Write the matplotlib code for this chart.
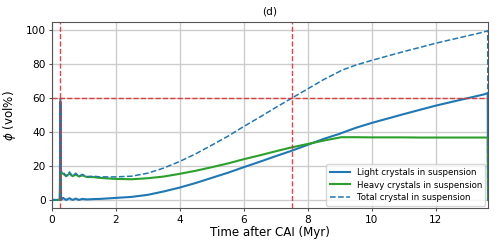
import matplotlib
matplotlib.use('Agg')
import matplotlib.pyplot as plt

# time after CAI (Myr)
time = [0, 0.01, 0.25, 0.27, 0.29, 0.35, 0.45, 0.55, 0.65, 0.75, 0.85, 0.95,
        1.1, 1.3, 1.5, 2, 2.5, 3, 3.5, 4, 4.5, 5, 5.5, 6, 6.5, 7, 7.5, 8,
        8.5, 9, 9.05, 9.5, 10, 10.5, 11, 11.5, 12, 12.5, 13, 13.5, 13.63, 13.64]

light = [0, 0, 0, 58, 0, 1.2, 0, 1.0, 0, 0.8, 0, 0.6,
         0.3, 0.5, 0.6, 1.2, 1.8, 3, 5, 7.3, 10, 13, 16, 19.3, 22.5, 25.8, 29, 32.5,
         36, 39, 39.4, 42.5, 45.4, 48, 50.6, 53.1, 55.6, 57.8, 60, 62.2, 63, 0]

heavy = [0, 0, 0, 17, 16.5, 15.5, 14, 15.5, 14, 15, 13.8, 14.5,
         13.5, 13.5, 13, 12.4, 12.2, 12.8, 13.8, 15.4, 17.2, 19.3, 21.5, 24, 26.3, 28.7, 31, 33,
         35, 36.8, 37, 37, 36.9, 36.9, 36.9, 36.8, 36.8, 36.8, 36.8, 36.8, 36.8, 0]

total = [100, 0, 0, 60, 16.5, 16.7, 14, 16.5, 14, 15.8, 13.8, 15.1,
         13.8, 14, 13.6, 13.6, 14, 15.8, 18.8, 22.7, 27.2, 32.3, 37.5, 43.3, 48.8, 54.5, 60, 65.5,
         71, 75.8, 76.4, 79.5, 82.3, 84.9, 87.5, 89.9, 92.4, 94.6, 96.8, 99, 99.8, 0]

fig = plt.figure(figsize=(4.98, 2.49), dpi=100)
ax = fig.add_axes([0.104, 0.163, 0.876, 0.749])

ax.plot(time, light, color='#1f77b4', lw=1.5, label='Light crystals in suspension')
ax.plot(time, heavy, color='#2ca02c', lw=1.5, label='Heavy crystals in suspension')
ax.plot(time, total, color='#1f77b4', lw=1.1, ls='--', label='Total crystal in suspension')

ax.axvline(0.27, color='#e03030', ls='--', lw=1.0, alpha=0.9)
ax.axvline(7.5, color='#e03030', ls='--', lw=1.0, alpha=0.9)
ax.axhline(60, color='#e03030', ls='--', lw=1.0, alpha=0.9)

ax.set_xlim(0, 13.64)
ax.set_ylim(-5, 105)
ax.set_xticks([0, 2, 4, 6, 8, 10, 12])
ax.set_yticks([0, 20, 40, 60, 80, 100])
ax.grid(True, color='#cccccc', lw=1.0)
ax.set_axisbelow(True)
for s in ax.spines.values():
    s.set_color('#555555')
ax.tick_params(labelsize=7.6, color='#555555', length=2.5, pad=2)

ax.set_xlabel('Time after CAI (Myr)', fontsize=8.6, labelpad=1)
ax.set_ylabel(r'$\phi$ (vol%)', fontsize=8.6, labelpad=5)
ax.set_title('(d)', fontsize=7.6, pad=5)
ax.legend(loc='lower right', fontsize=6.2, framealpha=0.8, handlelength=2.3,
          borderpad=0.4, labelspacing=0.45, borderaxespad=0.3)

plt.savefig('out.png', dpi=100)
